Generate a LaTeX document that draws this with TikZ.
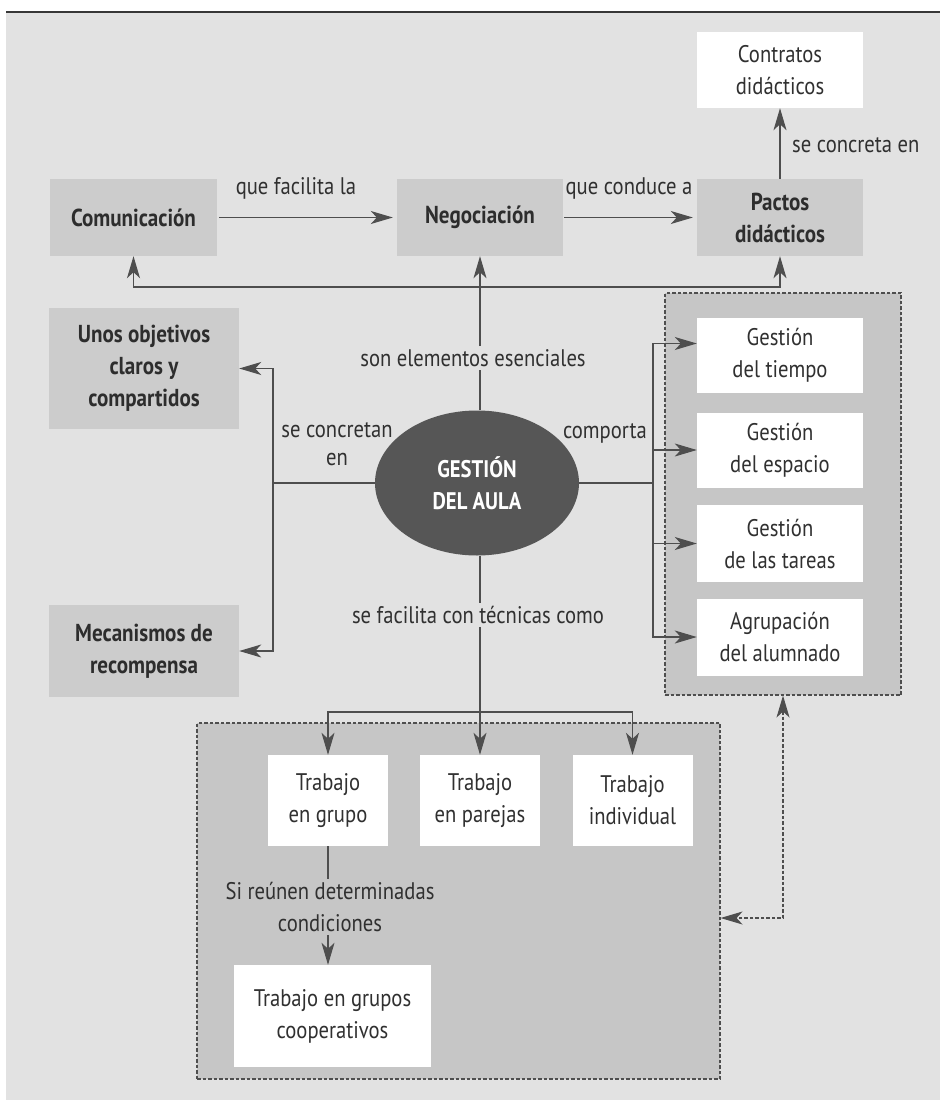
\documentclass[tikz,border=0pt]{standalone}
\usepackage{fontspec}
\setmainfont{PT Sans}[FakeStretch=0.86]
\usetikzlibrary{arrows.meta,shapes.geometric}
\definecolor{bgc}{RGB}{226,226,226}
\definecolor{boxc}{RGB}{204,204,204}
\definecolor{contc}{RGB}{198,198,198}
\definecolor{linec}{RGB}{78,78,78}
\definecolor{ellc}{RGB}{86,86,86}
\definecolor{txt}{RGB}{48,48,48}
\definecolor{txtd}{RGB}{45,45,45}
\begin{document}
\begin{tikzpicture}[x=1pt,y=-1pt,
  every node/.style={font=\fontsize{24}{32}\selectfont, text=txt, align=center, inner sep=0pt},
  graybox/.style={fill=boxc, minimum height=77pt, font=\fontsize{24.5}{32}\selectfont\bfseries, text=txtd},
  whitebox/.style={fill=white},
  lbl/.style={inner sep=3pt},
  conn/.style={draw=linec, line width=1.1pt},
  arrowtip/.style={-{Stealth[length=22pt,width=13pt,inset=6pt]}},
  arr/.style={conn, arrowtip},
  dconn/.style={draw=linec, line width=1.1pt, dash pattern=on 3.5pt off 2pt},
  cont/.style={fill=contc, draw=linec, dash pattern=on 3.5pt off 2pt, line width=1.1pt}]
\useasboundingbox (0,0) rectangle (940,1100);
\fill[white] (0,0) rectangle (940,1100);
\fill[bgc] (6,13) rectangle (940,1100);
\draw[linec!70!black, line width=2pt] (6,12) -- (940,12);

% containers
\node[cont, minimum width=236pt, minimum height=402pt] (rc) at (783,494) {};
\node[cont, minimum width=523pt, minimum height=356pt] (bc) at (458.5,901) {};

% top row
\node[whitebox, minimum width=166pt, minimum height=76pt] (contr) at (780,70) {Contratos\\didácticos};
\node[graybox, minimum width=167pt] (com) at (133.5,217.5) {Comunicación};
\node[graybox, minimum width=166pt] (neg) at (480,217.5) {Negociación};
\node[graybox, minimum width=166pt] (pac) at (780,217.5) {Pactos\\didácticos};

% left
\node[graybox, minimum width=190pt, minimum height=121pt] (obj) at (144,368.5) {Unos objetivos\\claros y\\compartidos};
\node[graybox, minimum width=190pt, minimum height=92pt] (mec) at (144,651) {Mecanismos de\\recompensa};

% center
\node[ellipse, fill=ellc, minimum width=204pt, minimum height=145pt, text=white, font=\fontsize{24}{32}\selectfont\bfseries] (ges) at (477,483) {GESTIÓN\\DEL AULA};

% right boxes
\node[whitebox, minimum width=166pt, minimum height=75pt] (t1) at (780,355.5) {Gestión\\del tiempo};
\node[whitebox, minimum width=166pt, minimum height=75pt] (t2) at (780,450) {Gestión\\del espacio};
\node[whitebox, minimum width=166pt, minimum height=77pt] (t3) at (780,543.5) {Gestión\\de las tareas};
\node[whitebox, minimum width=166pt, minimum height=77pt] (t4) at (780,637) {Agrupación\\del alumnado};

% bottom boxes
\node[whitebox, minimum width=120pt, minimum height=91pt] (g1) at (328,800.5) {Trabajo\\en grupo};
\node[whitebox, minimum width=120pt, minimum height=91pt] (g2) at (480,800.5) {Trabajo\\en parejas};
\node[whitebox, minimum width=120pt, minimum height=91pt] (g3) at (632.5,800.5) {Trabajo\\individual};
\node[whitebox, minimum width=197pt, minimum height=102pt] (coop) at (332.5,1016) {Trabajo en grupos\\cooperativos};

% labels
\node[lbl] (lfac) at (296,188) {que facilita la};
\node[lbl] (lcond) at (629,188) {que conduce a};
\node[lbl, anchor=west] (lconc) at (789,145) {se concreta en};
\node[lbl] (lson) at (473,358) {son elementos esenciales};
\node[lbl, font=\fontsize{24}{28}\selectfont] (lconcr) at (337,444) {se concretan\\en};
\node[lbl, anchor=east] (lcomp) at (650,433) {comporta};
\node[lbl] (ltec) at (478,615) {se facilita con técnicas como};
\node[lbl] (lsi) at (330,907) {Si reúnen determinadas\\condiciones};

% connectors top row
\draw[arr, shorten <=2pt, shorten >=4pt] (com) -- (neg);
\draw[arr, shorten <=1pt, shorten >=4pt] (neg) -- (pac);
\draw[arr] (pac.north) -- (contr.south);

% top bus
\coordinate (tb) at (480,287);
\draw[arr] (tb) -| (com.south);
\draw[arr] (tb) -| (pac.south);
\draw[conn] (ges.north -| neg) -- (lson.south -| neg);
\draw[arr] (lson.north -| neg) -- (neg.south);

% left branch
\coordinate (lb) at (273,483);
\draw[conn] (ges.west) -- (lb);
\draw[arr] (lb) |- (obj.east);
\draw[arr] (lb) |- (mec.east);

% right branch
\coordinate (rb) at (653,483);
\draw[conn] (ges.east) -- (rb);
\draw[arr] (rb) |- ([yshift=12pt]t1.west);
\draw[arr] (rb) |- (t2.west);
\draw[arr] (rb) |- (t3.west);
\draw[arr] (rb) |- (t4.west);

% bottom branch
\coordinate (bb) at (480,712);
\draw[conn] (ges.south -| g2) -- (ltec.north -| g2);
\draw[arr] (ltec.south -| g2) -- (g2.north);
\draw[arr] (bb) -| (g1.north);
\draw[arr] (bb) -| (g3.north);
\draw[conn] (g1.south) -- (lsi.north -| g1);
\draw[arr] (lsi.south -| g1) -- (coop.north -| g1);

% dashed link between containers
\coordinate (dc) at (783,918);
\draw[dconn, {Stealth[length=22pt,width=13pt,inset=6pt]}-{Stealth[length=22pt,width=13pt,inset=6pt]}] (rc.south -| dc) -- (dc) -- (bc.east |- dc);
\end{tikzpicture}
\end{document}
